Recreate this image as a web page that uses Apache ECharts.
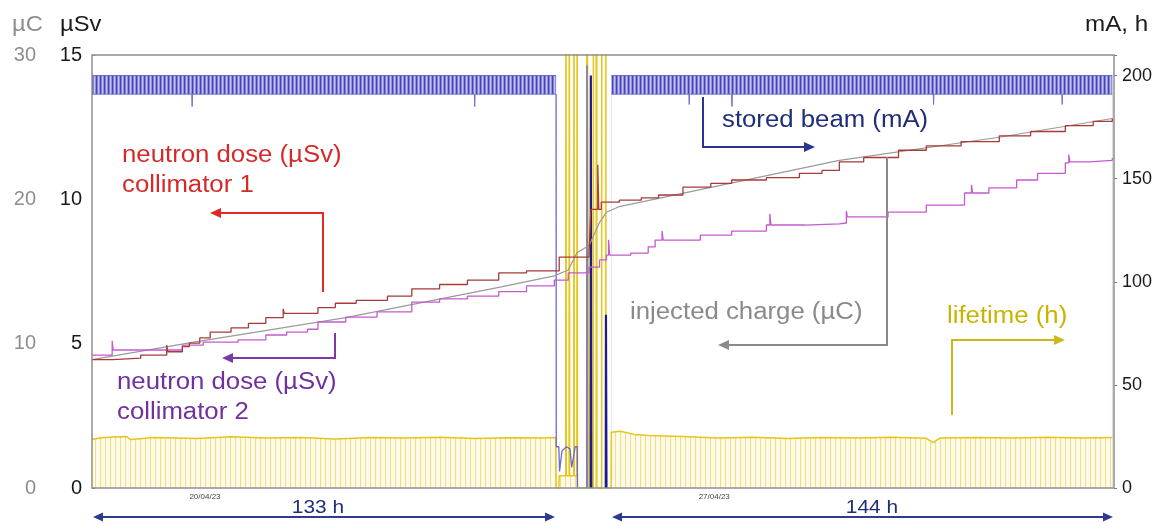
<!DOCTYPE html>
<html><head><meta charset="utf-8">
<script src="https://cdn.jsdelivr.net/npm/echarts@6/dist/echarts.min.js"></script>
<style>html,body{margin:0;padding:0;background:#fff}#c{width:1169px;height:526px}</style>
</head><body><div id="c"></div>
<script>
// ---------------- data (hours from start of plot) ----------------
// neutron dose collimator 1 (µSv)
const col1Hours = [0,6,14,21.5,21.8,26,28,31,34,40,45,50,55,55.3,65,70,76,85,92,100,108,117,125,134.4,143,143.5,145.5,145.8,146.5,151.7,158,163,170,178,184,194,203.5,210,215,222,232,240,250,261,270,280,288,293.5];
const col1Dose  = [4.45,4.5,4.6,4.95,4.72,4.9,5.02,5.2,5.4,5.55,5.7,5.9,6.2,6.05,6.25,6.4,6.5,6.65,6.9,7.05,7.2,7.45,7.52,8.0,8.17,9.65,11.2,9.65,9.9,9.97,10.05,10.15,10.42,10.55,10.67,10.75,10.9,11.0,11.3,11.45,11.7,11.85,12.0,12.2,12.35,12.55,12.7,12.8];
// neutron dose collimator 2 (µSv)
const col2Hours = [0,5.8,6.1,26,32,42,50,56,62,65,73,82,92,100,108,117,125,133,137,143,146,148,148.6,148.9,155,160,162,164,164.3,175,184,194,195,195.3,205,215,217,217.3,229,240,251,253,253.3,258,266,272,280,281,281.3,287,293.5];
const col2Dose  = [4.6,5.1,4.78,4.95,5.05,5.13,5.3,5.4,5.5,5.75,5.92,6.1,6.44,6.55,6.65,6.8,7.0,7.2,7.45,7.65,7.9,8.07,8.6,8.07,8.14,8.35,8.59,8.9,8.59,8.76,8.9,9.11,9.5,9.11,9.15,9.18,9.6,9.39,9.56,9.8,10.22,10.5,10.22,10.4,10.67,10.9,11.26,11.55,11.3,11.35,11.43];
// injected charge (µC)
const chargeHours = [0,28,73,117,133,137,139.5,143,146,148,151.7,215,261,293.5];
const chargeUC    = [8.9,10.05,11.8,13.9,14.7,15.1,16.3,16.8,18.4,19.1,19.5,22.7,24.3,25.6];
// stored beam envelope (mA); null = beam off
const beamHours = [0,28.7,28.8,28.9,110,110.1,110.2,133.5,141,149.4,171.7,171.8,171.9,184,184.1,184.2,242,242.1,242.2,279,279.1,279.2,293.5];
const beamHigh  = [200,200,200,200,200,200,200,200,null,200,200,200,200,200,200,200,200,200,200,200,200,200,200];
const beamLow   = [191,191,185,191,191,185,191,191,null,191,191,186,191,191,185,191,191,186,191,191,186,191,191];
// stored beam during the shutdown/restart (mA)
const beamGapHours = [133.5,133.55,134.3,134.5,135.2,136.5,137.5,138,139,139.6,139.65,141,142.35,142.4,142.45];
const beamGapMA    = [191,20,20,8,18,20,19,10,20,20,0,null,0,205,0];
const beamKickHours = [143.45,143.5,143.6,143.65,145,147.8,147.85,147.95,148.0];
const beamKickMA    = [0,200,200,0,null,0,84,84,0];
// beam lifetime (h)
const lifeHours = [0,3,10,11,18,30,40,50,60,70,80,90,100,110,120,130,133.4,133.5,134.3,134.4,136.3,136.35,136.45,137.25,137.3,137.4,138.6,138.65,138.75,139.5,139.55,139.65,142.3,142.35,142.9,142.95,144.2,144.25,145.2,145.25,146.6,146.65,147.8,147.85,149.35,149.4,152,156,160,170,180,190,200,210,220,230,240,242,244,255,265,275,285,293.5];
const lifeH     = [23.5,24.5,25,23.5,24.5,24,24.8,24.2,24.5,23.8,24.5,24.2,24.6,24,24.4,24.2,24.5,0,0,6,6,300,6,6,300,6,6,300,6,6,300,0,0,300,300,0,0,300,300,0,0,300,300,0,0,27,27.5,26,25.5,25,24.3,24.6,24,24.5,24.2,24.6,24.1,22,24.3,24.5,24.2,24.6,24.3,24.5];
// axis tick labels
const dateHours  = [32.5, 179];
const dateLabels = ['20/04/23', '27/04/23'];

// ---------------- helpers ----------------
const zip = (xs, ys) => xs.map((x, i) => [x, ys[i] === null ? null : ys[i]]);
function pattern(colors) {
  const c = document.createElement('canvas');
  c.width = colors.length; c.height = 4;
  const ctx = c.getContext('2d');
  colors.forEach((col, i) => { ctx.fillStyle = col; ctx.fillRect(i, 0, 1, 4); });
  return { image: c, repeat: 'repeat' };
}
const FONT = '"Liberation Sans", Arial, sans-serif';

// ---------------- annotations (pixel layout) ----------------
const G = [];
function txt(x, y, s, color, size, sx, align) {
  G.push({ type: 'text', x, y, scaleX: sx || 1, z: 100,
    style: { text: s, fill: color, font: size + 'px ' + FONT,
      align: align || 'left', verticalAlign: 'middle', textAlign: align || 'left', textVerticalAlign: 'middle' } });
}
function head(x, y, dir, color, s) {
  s = s || 11; const w = s * 0.45;
  let pts;
  if (dir === 'left') pts = [[x, y], [x + s, y - w], [x + s, y + w]];
  else pts = [[x, y], [x - s, y - w], [x - s, y + w]];
  G.push({ type: 'polygon', z: 100, shape: { points: pts }, style: { fill: color } });
}
function pline(pts, color, w) {
  G.push({ type: 'polyline', z: 100, shape: { points: pts }, style: { stroke: color, lineWidth: w || 2, fill: null } });
}
// axis titles
txt(12, 25, 'µC', '#8e8e8e', 22, 1.08);
txt(60, 25, 'µSv', '#1a1a1a', 22, 1.08);
txt(1085, 25, 'mA, h', '#1a1a1a', 22, 1.1);
// collimator 1
txt(122, 156, 'neutron dose (µSv)', '#d42a2a', 23, 1.12);
txt(122, 186, 'collimator 1', '#d42a2a', 23, 1.12);
pline([[323, 292], [323, 213], [220, 213]], '#e02a2a', 2); head(210, 213, 'left', '#e02a2a');
// collimator 2
txt(117, 383, 'neutron dose (µSv)', '#7030a0', 23, 1.12);
txt(117, 413, 'collimator 2', '#7030a0', 23, 1.12);
pline([[335, 333], [335, 358], [232, 358]], '#7a3aa8', 2); head(222, 358, 'left', '#7a3aa8');
// stored beam
txt(722, 121, 'stored beam (mA)', '#1f2d7a', 23, 1.12);
pline([[703, 97], [703, 147], [805, 147]], '#2b3590', 2); head(815, 147, 'right', '#2b3590');
// injected charge
txt(630, 313, 'injected charge (µC)', '#8a8a8a', 23, 1.12);
pline([[887, 157], [887, 345], [728, 345]], '#8a8a8a', 2); head(718, 345, 'left', '#8a8a8a');
// lifetime
txt(947, 317, 'lifetime (h)', '#c9b400', 23, 1.12);
pline([[952, 415], [952, 340], [1055, 340]], '#cdb81a', 2); head(1065, 340, 'right', '#cdb81a');
// run durations
pline([[100, 517], [548, 517]], '#2e3a8c', 2); head(93, 517, 'left', '#2e3a8c', 10); head(555, 517, 'right', '#2e3a8c', 10);
pline([[619, 517], [1106, 517]], '#2e3a8c', 2); head(612, 517, 'left', '#2e3a8c', 10); head(1113, 517, 'right', '#2e3a8c', 10);
txt(318, 508, '133 h', '#1f2d7a', 19, 1.1, 'center');
txt(872, 508, '144 h', '#1f2d7a', 19, 1.1, 'center');

// ---------------- chart ----------------
const chart = echarts.init(document.getElementById('c'), null, { renderer: 'canvas' });
const lineBase = { type: 'line', symbol: 'none', animation: false, xAxisIndex: 0 };
chart.setOption({
  animation: false,
  backgroundColor: '#fff',
  textStyle: { fontFamily: FONT },
  grid: { left: 92, right: 55, top: 55, bottom: 38, show: true, z: 20, borderColor: '#8e8e8e', borderWidth: 1.5, backgroundColor: 'transparent' },
  xAxis: [{
    type: 'value', min: 0, max: 294,
    axisLine: { show: false }, axisTick: { show: false }, splitLine: { show: false },
    axisLabel: { customValues: dateHours, fontSize: 8, color: '#444', margin: 5,
      formatter: v => { const i = dateHours.findIndex(d => Math.abs(d - v) < 0.01); return i >= 0 ? dateLabels[i] : ''; } }
  }],
  yAxis: [
    { type: 'value', min: 0, max: 15, interval: 5, position: 'left',
      axisLine: { show: false }, axisTick: { show: true, inside: true, length: 3, lineStyle: { color: '#777' } },
      axisLabel: { fontSize: 20, color: '#1a1a1a', margin: 10 }, splitLine: { show: false } },
    { type: 'value', min: 0, max: 30, interval: 10, position: 'left', offset: 46,
      axisLine: { show: false }, axisTick: { show: false },
      axisLabel: { fontSize: 20, color: '#8e8e8e', margin: 10 }, splitLine: { show: false } },
    { type: 'value', min: 0, max: 210, interval: 50, position: 'right',
      axisLine: { show: false }, axisTick: { show: true, length: 3, lineStyle: { color: '#777' } },
      axisLabel: { fontSize: 18, color: '#1a1a1a', margin: 8, formatter: v => v > 200 ? '' : String(v) },
      splitLine: { show: false } }
  ],
  series: [
    // stored beam band: upper envelope filled down, lower envelope covered in white
    Object.assign({}, lineBase, { name: 'stored beam', yAxisIndex: 2, z: 1, data: zip(beamHours, beamHigh),
      lineStyle: { color: '#6060c8', width: 1 },
      areaStyle: { color: pattern(['#4444b8', '#8080d8', '#c4c4ee', '#9090dc']), opacity: 1 } }),
    Object.assign({}, lineBase, { name: 'beam low', yAxisIndex: 2, z: 1, data: zip(beamHours, beamLow),
      lineStyle: { color: '#7070d0', width: 1 },
      areaStyle: { color: '#ffffff', opacity: 1 } }),
    Object.assign({}, lineBase, { name: 'lifetime', yAxisIndex: 2, z: 3, data: zip(lifeHours, lifeH),
      lineStyle: { color: '#e6c41a', width: 1.5 },
      areaStyle: { color: pattern(['#f2e07a', '#fdf8e0', '#fffdf3', '#fdf8e4', '#fffdf3']), opacity: 1 } }),
    Object.assign({}, lineBase, { name: 'beam gap', yAxisIndex: 2, z: 4, data: zip(beamGapHours, beamGapMA),
      lineStyle: { color: '#6a6ad0', width: 1.3 } }),
    Object.assign({}, lineBase, { name: 'beam restart', yAxisIndex: 2, z: 4, data: zip(beamKickHours, beamKickMA),
      lineStyle: { color: '#1c1c90', width: 2.2 } }),
    Object.assign({}, lineBase, { name: 'injected charge', yAxisIndex: 1, z: 5, data: zip(chargeHours, chargeUC),
      lineStyle: { color: '#9a9a9a', width: 1.2 } }),
    Object.assign({}, lineBase, { name: 'collimator 2', yAxisIndex: 0, z: 6, step: 'end', data: zip(col2Hours, col2Dose),
      lineStyle: { color: '#c55ad0', width: 1.3 } }),
    Object.assign({}, lineBase, { name: 'collimator 1', yAxisIndex: 0, z: 7, step: 'end', data: zip(col1Hours, col1Dose),
      lineStyle: { color: '#a83a3a', width: 1.3 } })
  ],
  graphic: { elements: G }
});
</script></body></html>
